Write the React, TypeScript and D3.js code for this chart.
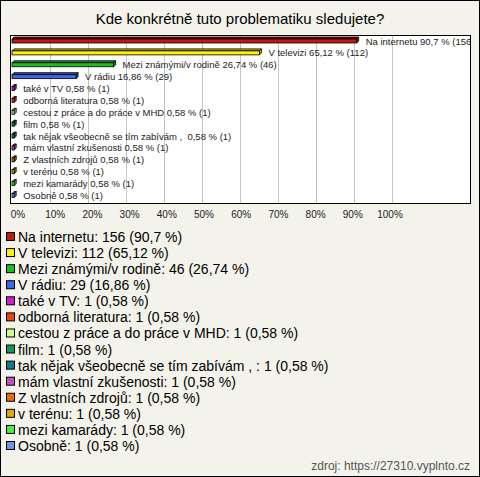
import React from "react";
import * as d3 from "d3";

const categories = [
  "Na internetu",
  "V televizi",
  "Mezi známými/v rodině",
  "V rádiu",
  "také v TV",
  "odborná literatura",
  "cestou z práce a do práce v MHD",
  "film",
  "tak nějak všeobecně se tím zabívám , ",
  "mám vlastní zkušenosti",
  "Z vlastních zdrojů",
  "v terénu",
  "mezi kamarády",
  "Osobně",
];
const counts = [156, 112, 46, 29, 1, 1, 1, 1, 1, 1, 1, 1, 1, 1];
const percents = [90.7, 65.12, 26.74, 16.86, 0.58, 0.58, 0.58, 0.58, 0.58, 0.58, 0.58, 0.58, 0.58, 0.58];
const colors = [
  "#c01a10",
  "#fff000",
  "#22bb22",
  "#3a66e8",
  "#cc22cc",
  "#e84414",
  "#ccff88",
  "#119955",
  "#127a8a",
  "#bb55bb",
  "#e87000",
  "#ddaa00",
  "#44ee44",
  "#6a98dd",
];
const ticks = [0, 10, 20, 30, 40, 50, 60, 70, 80, 90, 100];
const title = "Kde konkrétně tuto problematiku sledujete?";
const source = "zdroj: https://27310.vyplnto.cz";

const fmt = (v: number) => String(v).replace(".", ",");

export default function App() {
  const W = 480;
  const H = 477;
  const plot = { x0: 10, x1: 471, y0: 35, y1: 204 };
  const x = d3.scaleLinear().domain([0, 100]).range([12, 392]);
  const xl = d3.scaleLinear().domain([0, 100]).range([18, 390]);
  const y = d3.scalePoint<string>().domain(categories).range([41, 195.5]);
  const ly = d3.scalePoint<string>().domain(categories).range([237, 446]);
  const bh = 4;
  const d = 2;
  const font = "Arial, 'Liberation Sans', sans-serif";

  return (
    <svg width={W} height={H} style={{ position: "absolute", left: 0, top: 0 }} fontFamily={font}>
      <defs>
        <clipPath id="pc">
          <rect x={plot.x0} y={plot.y0} width={plot.x1 - plot.x0} height={plot.y1 - plot.y0} />
        </clipPath>
      </defs>
      <rect x={0.5} y={0.5} width={W - 1} height={H - 1} fill="#f3f3eb" stroke="#000" />
      <text x={W / 2} y={24} textAnchor="middle" fontSize={15} fill="#000">
        {title}
      </text>
      <rect x={plot.x0 + 0.5} y={plot.y0 + 0.5} width={plot.x1 - plot.x0 - 1} height={plot.y1 - plot.y0 - 1} fill="#fff" />
      {ticks.slice(1).map((t) => (
        <line key={t} x1={Math.round(x(t)) + 0.5} x2={Math.round(x(t)) + 0.5} y1={plot.y0} y2={plot.y1} stroke="#c4c4c4" />
      ))}
      <g clipPath="url(#pc)">
        {categories.map((c, i) => {
          const x0 = x(0);
          const x1 = x(percents[i]);
          const yc = y(c)!;
          const top = yc - bh / 2;
          const col = colors[i];
          const dark = d3.color(col)!.darker(0.8).toString();
          return (
            <g key={c}>
              <polygon
                points={`${x0},${top} ${x0 + d},${top - d} ${x1 + d},${top - d} ${x1},${top}`}
                fill={dark}
                stroke="#000"
                strokeWidth={0.8}
              />
              <polygon
                points={`${x1},${top} ${x1 + d},${top - d} ${x1 + d},${top + bh - d} ${x1},${top + bh}`}
                fill={dark}
                stroke="#000"
                strokeWidth={0.8}
              />
              <rect x={x0} y={top} width={x1 - x0} height={bh} fill={col} stroke="#000" strokeWidth={0.8} />
              <text x={x1 + 9} y={yc + 3.5} fontSize={9.5} fill="#222" style={{ whiteSpace: "pre" }}>
                {`${c} ${fmt(percents[i])} % (${counts[i]})`}
              </text>
            </g>
          );
        })}
      </g>
      <rect x={plot.x0 + 0.5} y={plot.y0 + 0.5} width={plot.x1 - plot.x0 - 1} height={plot.y1 - plot.y0 - 1} fill="none" stroke="#000" />
      {ticks.map((t) => (
        <text key={t} x={xl(t)} y={218} textAnchor="middle" fontSize={10} fill="#222">
          {`${t}%`}
        </text>
      ))}
      {categories.map((c, i) => {
        const yc = ly(c)!;
        return (
          <g key={c}>
            <rect x={6.5} y={yc - 4.5} width={8} height={8} fill={colors[i]} stroke="#000" />
            <text x={18} y={yc + 5} fontSize={14} fill="#000" style={{ whiteSpace: "pre" }}>
              {`${c}: ${counts[i]} (${fmt(percents[i])} %)`}
            </text>
          </g>
        );
      })}
      <text x={470} y={470} textAnchor="end" fontSize={12} fill="#555">
        {source}
      </text>
    </svg>
  );
}
